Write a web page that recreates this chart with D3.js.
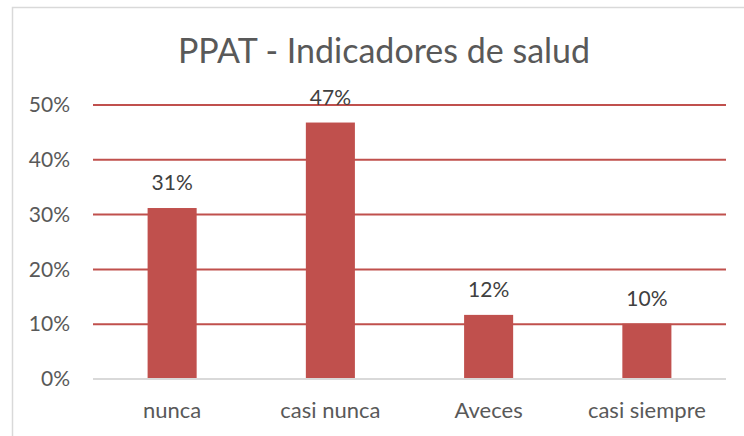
<!DOCTYPE html>
<html>
<head>
<meta charset="utf-8">
<script src="https://cdn.jsdelivr.net/npm/d3@7"></script>
<style>
	html, body { margin: 0; padding: 0; background: #fff; }
	svg text { font-family: Lato, "Open Sans", sans-serif; }
</style>
</head>
<body>
<svg id="chart" width="744" height="436"></svg>
<script>
// data
var categories = ["nunca", "casi nunca", "Aveces", "casi siempre"];
var values = [0.312, 0.468, 0.117, 0.101];
var labels = ["31%", "47%", "12%", "10%"];
var yTicks = [0, 0.1, 0.2, 0.3, 0.4, 0.5];
var title = "PPAT - Indicadores de salud";

var svg = d3.select("#chart"),
	margin = {top: 105, right: 18, bottom: 57, left: 93},
	width = +svg.attr("width") - margin.left - margin.right,
	height = +svg.attr("height") - margin.top - margin.bottom,
	barColor = "#c0504d";

// chart frame (runs past the right and bottom edge)
svg.append("rect")
	.attr("x", 12.5)
	.attr("y", 7.5)
	.attr("width", 760)
	.attr("height", 460)
	.attr("fill", "#fff")
	.attr("stroke", "#d9d9d9")
	.attr("stroke-width", 1.5);

svg.append("text")
	.attr("x", 384)
	.attr("y", 63)
	.attr("text-anchor", "middle")
	.attr("fill", "#595959")
	.style("font-size", "34px")
	.text(title);

var x = d3.scaleBand()
	.domain(categories)
	.range([0, width])
	.paddingInner(0.69)
	.paddingOuter(0.345);

var y = d3.scaleLinear()
	.domain([0, 0.5])
	.range([height, 0]);

var g = svg.append("g").attr("transform", "translate(" + margin.left + "," + margin.top + ")");

var yAxis = d3.axisLeft(y)
	.tickValues(yTicks)
	.tickSize(0)
	.tickPadding(23)
	.tickFormat(d3.format(".0%"));

var gY = g.append("g").attr("class", "axis y").call(yAxis);
gY.select(".domain").remove();
gY.selectAll("text")
	.attr("fill", "#595959")
	.style("font-size", "21px");

// gridlines
g.append("g")
	.selectAll("line")
	.data(yTicks.filter(function(d) { return d > 0; }))
	.enter().append("line")
	.attr("x1", 0)
	.attr("x2", width)
	.attr("y1", function(d) { return y(d); })
	.attr("y2", function(d) { return y(d); })
	.attr("stroke", barColor)
	.attr("stroke-width", 2);

g.selectAll(".bar")
	.data(values)
	.enter().append("rect")
	.attr("class", "bar")
	.attr("x", function(d, i) { return x(categories[i]); })
	.attr("width", x.bandwidth())
	.attr("y", function(d) { return y(d); })
	.attr("height", function(d) { return height - y(d); })
	.attr("fill", barColor);

// baseline
g.append("line")
	.attr("x1", 0)
	.attr("x2", width)
	.attr("y1", height)
	.attr("y2", height)
	.attr("stroke", "#d9d9d9")
	.attr("stroke-width", 2);

g.selectAll(".lbl")
	.data(values)
	.enter().append("text")
	.attr("class", "lbl")
	.attr("x", function(d, i) { return x(categories[i]) + x.bandwidth() / 2; })
	.attr("y", function(d) { return y(d) - 18; })
	.attr("text-anchor", "middle")
	.attr("fill", "#404040")
	.style("font-size", "21px")
	.text(function(d, i) { return labels[i]; });

var xAxis = d3.axisBottom(x).tickSize(0).tickPadding(23);
var gX = g.append("g")
	.attr("class", "axis x")
	.attr("transform", "translate(0," + height + ")")
	.call(xAxis);
gX.select(".domain").remove();
gX.selectAll("text")
	.attr("fill", "#595959")
	.style("font-size", "22px");
</script>
</body>
</html>
